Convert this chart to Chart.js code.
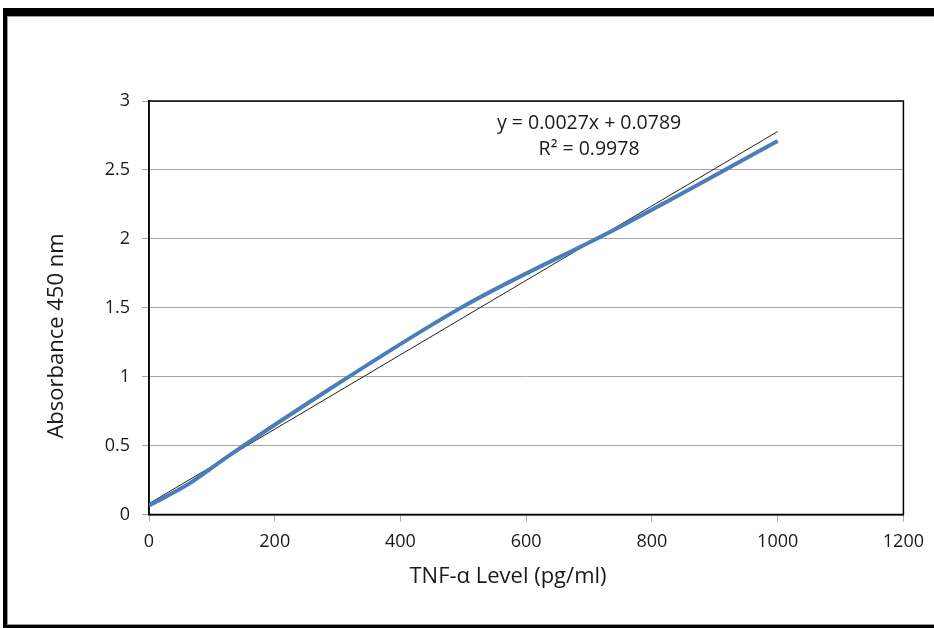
<!DOCTYPE html>
<html>
<head>
<meta charset="utf-8">
<title>TNF-alpha standard curve</title>
<script src="https://cdn.jsdelivr.net/npm/chart.js@4"></script>
<style>
    body { margin: 0; background: #fff; }
    #wrap { position: relative; width: 934px; height: 628px; overflow: hidden; }
    .frame {
        position: absolute; left: 3px; top: 8px; right: -10px; bottom: 0;
        border-left: 4px solid #000; border-top: 8px solid #000; border-bottom: 3px solid #000;
    }
    .frame-inner {
        position: absolute; left: 0; top: 0; right: 0; bottom: 0;
        border-left: 1px solid #9a9a9a; border-top: 1px solid #9a9a9a; border-bottom: 1px solid #9a9a9a;
    }
    canvas { position: absolute; left: 0; top: 0; }
</style>
</head>
<body>
<div id="wrap">
    <div class="frame"><div class="frame-inner"></div></div>
    <canvas id="curveChart" width="934" height="628"></canvas>
</div>
<script>
// standard concentrations (pg/ml) and measured absorbance
const concentrations = [0, 62.5, 125, 250, 500, 750, 1000];
const absorbance = [0.065, 0.22, 0.42, 0.80, 1.51, 2.09, 2.71];

// linear trendline shown on the chart
const trendSlope = 0.0027;
const trendIntercept = 0.0789;
const trendLabel = ['y = 0.0027x + 0.0789', 'R\u00b2 = 0.9978'];

const xTicks = [0, 200, 400, 600, 800, 1000, 1200];
const yTicks = [0, 0.5, 1, 1.5, 2, 2.5, 3];

const xTitle = 'TNF-\u03b1 Level (pg/ml)';
const yTitle = 'Absorbance 450 nm';

const FONT = '"Open Sans", "Noto Sans", sans-serif';

const curvePoints = concentrations.map((c, i) => ({ x: c, y: absorbance[i] }));
const xMin = concentrations[0];
const xMax = concentrations[concentrations.length - 1];
const trendPoints = [
    { x: xMin, y: trendIntercept + trendSlope * xMin },
    { x: xMax, y: trendIntercept + trendSlope * xMax }
];

const chartExtras = {
    id: 'chartExtras',
    beforeDatasetsDraw(chart) {
        const { ctx, chartArea: a } = chart;
        ctx.save();
        ctx.strokeStyle = '#000';
        ctx.lineWidth = 1.5;
        ctx.strokeRect(a.left, a.top, a.right - a.left, a.bottom - a.top);
        ctx.restore();
    },
    afterDraw(chart) {
        const { ctx } = chart;
        const xs = chart.scales.x, ys = chart.scales.y;
        ctx.save();
        ctx.fillStyle = '#1a1a1a';
        ctx.textAlign = 'center';
        ctx.textBaseline = 'middle';

        // trendline equation
        ctx.font = '19.5px ' + FONT;
        const ex = xs.getPixelForValue(700);
        ctx.fillText(trendLabel[0], ex, ys.getPixelForValue(2.84));
        ctx.fillText(trendLabel[1], ex, ys.getPixelForValue(2.65));

        // axis titles
        ctx.font = '22px ' + FONT;
        ctx.fillText(xTitle, 508, 577);
        ctx.translate(57, 336);
        ctx.rotate(-Math.PI / 2);
        ctx.fillText(yTitle, 0, 0);
        ctx.restore();
    }
};

const ctx = document.getElementById('curveChart').getContext('2d');
const curveChart = new Chart(ctx, {
    type: 'scatter',
    data: {
        datasets: [
            {
                label: 'Absorbance',
                data: curvePoints,
                showLine: true,
                borderColor: '#4a7ebb',
                borderWidth: 4,
                pointRadius: 0,
                cubicInterpolationMode: 'monotone',
                order: 1
            },
            {
                label: 'Linear trend',
                data: trendPoints,
                showLine: true,
                borderColor: '#222',
                borderWidth: 1,
                pointRadius: 0,
                order: 2
            }
        ]
    },
    options: {
        responsive: false,
        animation: false,
        devicePixelRatio: 1,
        layout: { padding: { left: 0, top: 101, right: 29, bottom: 0 } },
        plugins: {
            legend: { display: false },
            tooltip: { enabled: false }
        },
        scales: {
            x: {
                type: 'linear',
                min: 0,
                max: 1200,
                afterBuildTicks: (scale) => { scale.ticks = xTicks.map(v => ({ value: v })); },
                afterFit: (scale) => { scale.height = 113.5; },
                grid: { drawOnChartArea: false, drawTicks: true, tickLength: 7, color: '#a6a6a6' },
                border: { color: '#000', width: 1.5 },
                ticks: {
                    color: '#1a1a1a', padding: 10, font: { family: FONT, size: 18 },
                    callback: (value) => String(value)
                }
            },
            y: {
                type: 'linear',
                min: 0,
                max: 3,
                afterBuildTicks: (scale) => { scale.ticks = yTicks.map(v => ({ value: v })); },
                afterFit: (scale) => { scale.width = 149; },
                grid: { color: '#a6a6a6', lineWidth: 1, tickLength: 7 },
                border: { color: '#000', width: 1.5 },
                ticks: {
                    color: '#1a1a1a', padding: 12, font: { family: FONT, size: 18 },
                    callback: (value) => String(value)
                }
            }
        }
    },
    plugins: [chartExtras]
});
</script>
</body>
</html>
